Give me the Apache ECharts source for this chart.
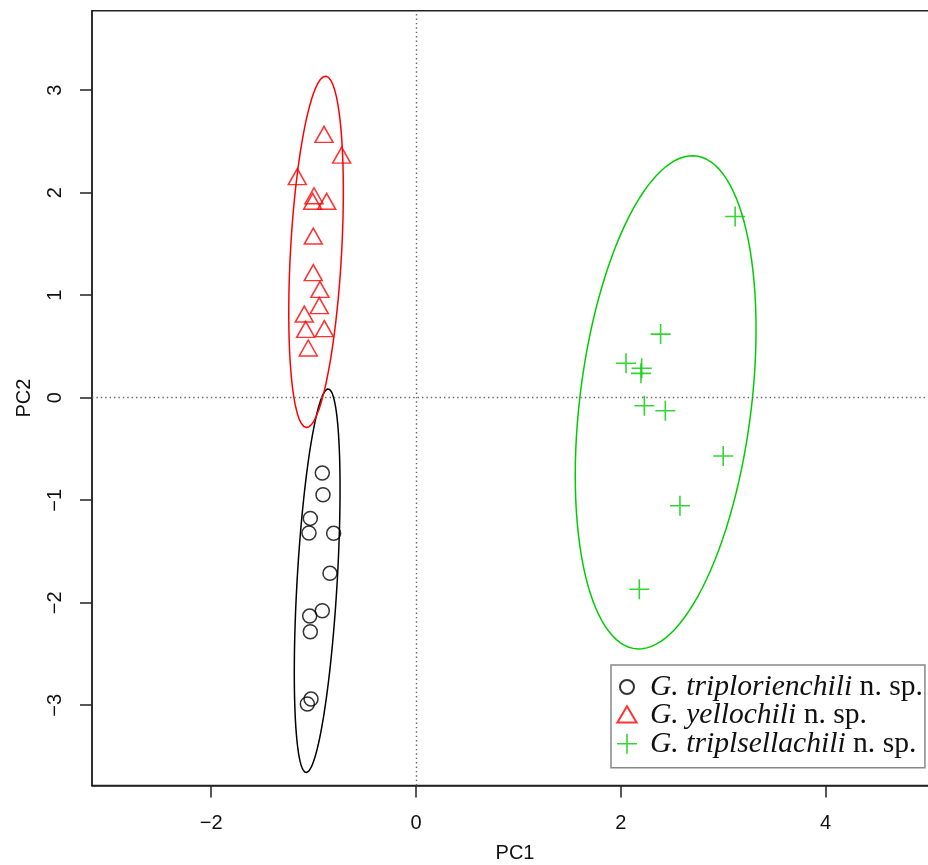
<!DOCTYPE html>
<html>
<head>
<meta charset="utf-8">
<script src="https://cdn.jsdelivr.net/npm/echarts@6/dist/echarts.min.js"></script>
<style>
  html, body { margin: 0; padding: 0; background: #fff; }
  #main { width: 928px; height: 865px; }
</style>
</head>
<body>
<div id="main"></div>
<script>
  // PCA scores
  var blackPC1 = [-0.915, -0.908, -1.032, -1.045, -0.804, -0.840, -0.915, -1.038, -1.032, -1.025, -1.061];
  var blackPC2 = [-0.735, -0.946, -1.177, -1.320, -1.323, -1.713, -2.078, -2.130, -2.283, -2.940, -2.988];

  var redPC1 = [-0.898, -0.726, -1.159, -0.996, -1.009, -0.872, -1.003, -1.003, -0.938, -0.944, -1.091, -1.077, -0.895, -1.052];
  var redPC2 = [2.543, 2.341, 2.131, 1.944, 1.890, 1.890, 1.551, 1.194, 1.031, 0.872, 0.790, 0.641, 0.648, 0.459];

  var greenPC1 = [3.117, 2.389, 2.051, 2.204, 2.197, 2.230, 2.435, 3.000, 2.578, 2.181];
  var greenPC2 = [1.768, 0.621, 0.336, 0.287, 0.238, -0.078, -0.127, -0.569, -1.054, -1.869];

  var speciesNames = ['G. triplorienchili', 'G. yellochili', 'G. triplsellachili'];
  var suffix = ' n. sp.';
  var xTicks = [-2, 0, 2, 4];
  var yTicks = [-3, -2, -1, 0, 1, 2, 3];

  function pairs(xs, ys) {
    var out = [];
    for (var i = 0; i < xs.length; i++) out.push([xs[i], ys[i]]);
    return out;
  }

  // 95% normal data ellipse (sample covariance, radius sqrt(qchisq(.95, 2)))
  function dataEllipse(xs, ys) {
    var n = xs.length, mx = 0, my = 0;
    for (var i = 0; i < n; i++) { mx += xs[i]; my += ys[i]; }
    mx /= n; my /= n;
    var sxx = 0, syy = 0, sxy = 0;
    for (var i = 0; i < n; i++) {
      sxx += (xs[i] - mx) * (xs[i] - mx);
      syy += (ys[i] - my) * (ys[i] - my);
      sxy += (xs[i] - mx) * (ys[i] - my);
    }
    sxx /= n - 1; syy /= n - 1; sxy /= n - 1;
    var r = Math.sqrt(5.991465);
    var a = Math.sqrt(sxx), b = sxy / a, c = Math.sqrt(syy - b * b);
    var pts = [];
    for (var k = 0; k <= 120; k++) {
      var t = 2 * Math.PI * k / 120, u = Math.cos(t), v = Math.sin(t);
      pts.push([mx + r * a * u, my + r * (b * u + c * v)]);
    }
    return pts;
  }

  function minus(v) { return v < 0 ? '\u2212' + Math.abs(v) : String(v); }

  var crossPath = 'path://M9.2,0h1.6v20h-1.6zM0,9.2h20v1.6h-20z';
  var circleIcon = 'path://M0,0M20,20M17,10A7,7,0,1,1,3,10A7,7,0,1,1,17,10Z';
  var triIcon = 'path://M0,0M20,20M10,0.8L19.6,17.2L0.4,17.2Z';

  var chart = echarts.init(document.getElementById('main'));
  var option = {
    animation: false,
    backgroundColor: '#fff',
    grid: {
      left: 92, top: 10.7, width: 846, height: 774.8,
      outerBoundsMode: 'none', containLabel: false,
      show: true, borderColor: '#222', borderWidth: 1.5, backgroundColor: 'transparent'
    },
    xAxis: {
      type: 'value', min: -3.164, max: 5.098,
      name: 'PC1', nameLocation: 'middle', nameGap: 58,
      nameTextStyle: { fontFamily: 'Liberation Sans', fontSize: 20, color: '#111' },
      axisLine: { show: true, onZero: false, lineStyle: { color: '#222', width: 1.5 } },
      axisTick: { show: true, length: 12, customValues: xTicks, lineStyle: { color: '#222', width: 1.5 } },
      axisLabel: { customValues: xTicks, margin: 28, fontFamily: 'Liberation Sans', fontSize: 20, color: '#111', formatter: minus },
      splitLine: { show: false }
    },
    yAxis: {
      type: 'value', min: -3.783, max: 3.776,
      name: 'PC2', nameLocation: 'middle', nameGap: 58,
      nameTextStyle: { fontFamily: 'Liberation Sans', fontSize: 20, color: '#111' },
      axisLine: { show: true, onZero: false, lineStyle: { color: '#222', width: 1.5 } },
      axisTick: { show: true, length: 12, customValues: yTicks, lineStyle: { color: '#222', width: 1.5 } },
      axisLabel: { customValues: yTicks, rotate: 90, margin: 27, fontFamily: 'Liberation Sans', fontSize: 20, color: '#111', formatter: minus },
      splitLine: { show: false }
    },
    legend: {
      orient: 'vertical', left: 611, top: 665,
      backgroundColor: '#fff', borderColor: '#888', borderWidth: 1.5, borderRadius: 0,
      padding: [7, 2, 9, 5], itemGap: -1.6, itemWidth: 20, itemHeight: 20, itemTextGap: 7,
      data: [
        { name: speciesNames[0] + suffix, icon: circleIcon },
        { name: speciesNames[1] + suffix, icon: triIcon },
        { name: speciesNames[2] + suffix, icon: crossPath }
      ],
      formatter: function (name) {
        return '{g| }{i|' + name.replace(suffix, '') + '}{n|' + suffix + '}';
      },
      textStyle: {
        rich: {
          g: { width: 8, fontSize: 10, lineHeight: 28 },
          i: { fontFamily: 'Liberation Serif', fontStyle: 'italic', fontSize: 29.6, lineHeight: 28, color: '#111' },
          n: { fontFamily: 'Liberation Serif', fontSize: 29.6, lineHeight: 28, color: '#111' }
        }
      }
    },
    series: [
      {
        name: speciesNames[0] + suffix, type: 'scatter', data: pairs(blackPC1, blackPC2),
        symbol: 'circle', symbolSize: 14,
        itemStyle: { color: 'transparent', borderColor: '#000', borderWidth: 1.5 },
        markLine: {
          silent: true, symbol: 'none', label: { show: false },
          lineStyle: { color: '#666', width: 1.4, type: [1.4, 3] },
          data: [{ xAxis: 0 }, { yAxis: 0 }]
        }
      },
      {
        name: speciesNames[1] + suffix, type: 'scatter', data: pairs(redPC1, redPC2),
        symbol: 'triangle', symbolSize: [18, 16], symbolOffset: [0, -2.7],
        itemStyle: { color: 'transparent', borderColor: '#ff0000', borderWidth: 1.5 }
      },
      {
        name: speciesNames[2] + suffix, type: 'scatter', data: pairs(greenPC1, greenPC2),
        symbol: crossPath, symbolSize: 20,
        itemStyle: { color: '#00cd00' }
      },
      {
        name: 'ellipse1', type: 'line', data: dataEllipse(blackPC1, blackPC2),
        showSymbol: false, smooth: false, silent: true,
        lineStyle: { color: '#000', width: 1.5 }
      },
      {
        name: 'ellipse2', type: 'line', data: dataEllipse(redPC1, redPC2),
        showSymbol: false, smooth: false, silent: true,
        lineStyle: { color: '#ff0000', width: 1.5 }
      },
      {
        name: 'ellipse3', type: 'line', data: dataEllipse(greenPC1, greenPC2),
        showSymbol: false, smooth: false, silent: true,
        lineStyle: { color: '#00cd00', width: 1.5 }
      }
    ]
  };
  chart.setOption(option);
</script>
</body>
</html>
